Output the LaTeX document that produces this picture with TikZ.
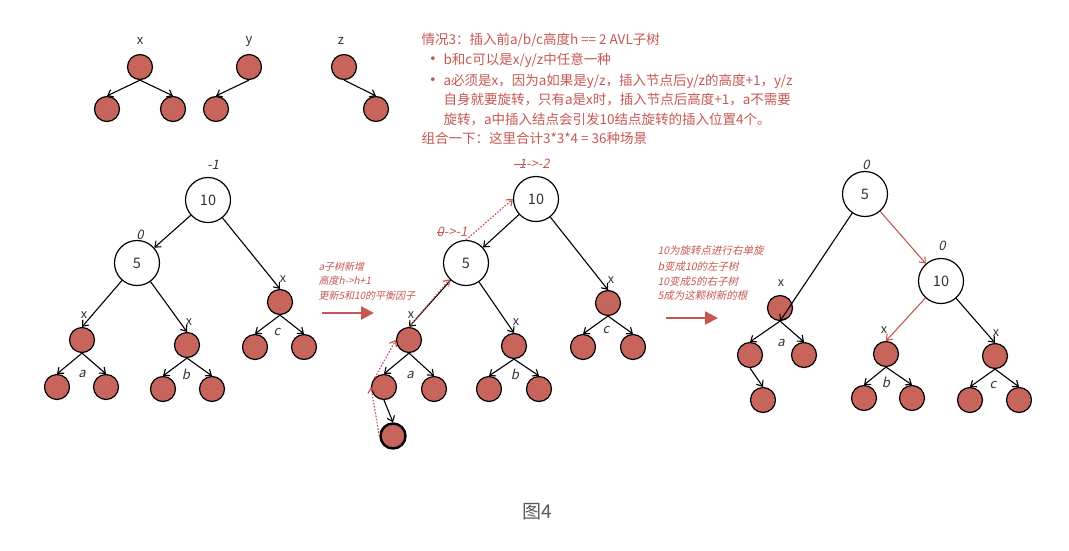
\documentclass[tikz,border=0pt]{standalone}
\usepackage{fontspec}
\setmainfont{Noto Sans CJK SC}
\newfontfamily\itf{Noto Sans CJK SC}[FakeSlant=0.22]
\newfontfamily\dejavu{DejaVu Sans}
\usetikzlibrary{arrows.meta}
\definecolor{nodered}{RGB}{199,100,92}
\definecolor{txtred}{RGB}{198,88,84}
\definecolor{capgray}{RGB}{90,90,90}
\definecolor{lblgray}{RGB}{50,50,50}
\newcommand\strk[1]{\setbox0\hbox{#1}\rlap{\raisebox{0.3em}{\rule{\wd0}{0.6pt}}}\box0}
\begin{document}
\begin{tikzpicture}[x=1pt,y=-1pt,line width=1.1pt,
  rn/.style={circle,draw=black,fill=nodered,minimum size=25pt,inner sep=0pt,line width=1.2pt},
  wn/.style={circle,draw=black,fill=white,minimum size=45pt,inner sep=0pt,line width=1.2pt,font=\fontsize{14.5}{14.5}\selectfont,text=lblgray},
  ed/.style={-{Straight Barb[length=5pt,width=8pt]},line width=1.1pt},
  rededge/.style={ed,draw=txtred},
  dt/.style={-{Straight Barb[length=5pt,width=8pt]},draw=txtred,dash pattern=on 1.6pt off 1.6pt,line width=1.2pt},
  xl/.style={font=\fontsize{12.5}{12.5}\selectfont,text=lblgray,inner sep=0pt},
  il/.style={font=\itf\fontsize{13}{13}\selectfont,text=lblgray,inner sep=0pt},
  bfl/.style={font=\itf\fontsize{13}{13}\selectfont,text=txtred,inner sep=0pt},
  ann/.style={font=\itf\fontsize{10}{12}\selectfont,text=txtred,anchor=west,inner sep=0pt},
  ann2/.style={font=\itf\fontsize{10.5}{12}\selectfont,text=txtred,anchor=west,inner sep=0pt},
  bigarrow/.style={-{Triangle[length=13pt,width=13pt]},line width=2.6pt,draw=txtred},
  maintext/.style={font=\fontsize{13.5}{16}\selectfont,text=txtred,anchor=west,inner sep=0pt},
  bullet/.style={font=\dejavu\fontsize{13}{16}\selectfont,text=txtred,inner sep=0pt}
]
\fill[white] (0,0) rectangle (1069,550);
\useasboundingbox (0,0) rectangle (1069,550);

% ---- top small trees ----
\node[xl,font=\fontsize{13}{13}\selectfont] (tx) at (140,41) {x};
\node[rn] (xr) at (140,67) {};
\node[rn] (xa) at (107,109) {};
\node[rn] (xb) at (173,109) {};
\draw[ed] (xr.south) -- (xa.north);
\draw[ed] (xr.south) -- (xb.north);

\node[xl,font=\fontsize{13}{13}\selectfont] (ty) at (249,41) {y};
\node[rn] (yr) at (249,67) {};
\node[rn] (ya) at (216,109) {};
\draw[ed] (yr.south) -- (ya.north);

\node[xl,font=\fontsize{13}{13}\selectfont] (tz) at (341,41) {z};
\node[rn] (zr) at (344,67) {};
\node[rn] (zb) at (376,109) {};
\draw[ed] (zr.south) -- (zb.north);

% ---- top text ----
\node[maintext] (t1) at (421,40) {情况3：插入前a/b/c高度h == 2 AVL子树};
\node[bullet] (b1) at (433,60) {•};
\node[maintext] (t2) at (443,60) {b和c可以是x/y/z中任意一种};
\node[bullet] (b2) at (433,81) {•};
\node[maintext] (t3) at (443,81) {a必须是x，因为a如果是y/z，插入节点后y/z的高度+1，y/z};
\node[maintext] (t4) at (443,100) {自身就要旋转，只有a是x时，插入节点后高度+1，a不需要};
\node[maintext] (t5) at (443,119) {旋转，a中插入结点会引发10结点旋转的插入位置4个。};
\node[maintext] (t6) at (421,138) {组合一下：这里合计3*3*4 = 36种场景};

% ---- left tree ----
\node[wn] (L10) at (208,200) {10};
\node[il] (L10b) at (213,165) {-1};
\node[wn] (L5) at (137,263) {5};
\node[il] (L5b) at (140,235) {0};
\node[rn] (La) at (82,340) {};
\node[xl] (Lax) at (84,315) {x};
\node[rn] (Lb) at (187,345) {};
\node[xl] (Lbx) at (189,322) {x};
\node[rn] (Lc) at (280,302) {};
\node[xl] (Lcx) at (283,279) {x};
\node[rn] (La1) at (57,387) {};
\node[rn] (La2) at (106,387) {};
\node[il] (Lal) at (82,374) {a};
\node[rn] (Lb1) at (163,389) {};
\node[rn] (Lb2) at (212,389) {};
\node[il] (Lbl) at (186,374) {b};
\node[rn] (Lc1) at (255,347) {};
\node[rn] (Lc2) at (304,347) {};
\node[il] (Lcl) at (277,332) {c};
\draw[ed] (L10) -- (L5);
\draw[ed] (L10) -- (Lc.north);
\draw[ed] (L5) -- (La.north);
\draw[ed] (L5) -- (Lb.north);
\draw[ed] (La.south) -- (La1.north);
\draw[ed] (La.south) -- (La2.north);
\draw[ed] (Lb.south) -- (Lb1.north);
\draw[ed] (Lb.south) -- (Lb2.north);
\draw[ed] (Lc.south) -- (Lc1.north);
\draw[ed] (Lc.south) -- (Lc2.north);

% ---- arrow 1 ----
\node[ann] (n1) at (318,267) {a子树新增};
\node[ann] (n2) at (318,281) {高度h->h+1};
\node[ann] (n3) at (318,296) {更新5和10的平衡因子};
\coordinate (A1s) at (322,313);
\coordinate (A1e) at (374,313);
\draw[bigarrow] (A1s) -- (A1e);

% ---- middle tree ----
\node[wn] (M10) at (536,199) {10};
\node[bfl] (M10b) at (532,164) {\strk{-1}->-2};
\node[wn] (M5) at (466,263) {5};
\node[bfl] (M5b) at (452,232) {\strk{0}->-1};
\node[rn] (Ma) at (409,340) {};
\node[xl] (Max) at (411,315) {x};
\node[rn] (Mb) at (514,346) {};
\node[xl] (Mbx) at (516,322) {x};
\node[rn] (Mc) at (608,303) {};
\node[xl] (Mcx) at (611,280) {x};
\node[rn] (Ma1) at (384,387) {};
\node[rn] (Ma2) at (434,389) {};
\node[il] (Mal) at (410,375) {a};
\node[rn] (Mb1) at (489,389) {};
\node[rn] (Mb2) at (539,389) {};
\node[il] (Mbl) at (515,374) {b};
\node[rn] (Mc1) at (583,347) {};
\node[rn] (Mc2) at (633,347) {};
\node[il] (Mcl) at (606,330) {c};
\node[rn,line width=2.4pt] (Mn) at (393,436) {};
\draw[ed] (M10) -- (M5);
\draw[ed] (M10) -- (Mc.north);
\draw[ed] (M5) -- (Ma.north);
\draw[ed] (M5) -- (Mb.north);
\draw[ed] (Ma.south) -- (Ma1.north);
\draw[ed] (Ma.south) -- (Ma2.north);
\draw[ed] (Mb.south) -- (Mb1.north);
\draw[ed] (Mb.south) -- (Mb2.north);
\draw[ed] (Mc.south) -- (Mc1.north);
\draw[ed] (Mc.south) -- (Mc2.north);
\draw[ed] (Ma1.south) -- (Mn.north);
\draw[dt] (Mn.west) -- (Ma1.west);
\draw[dt] (Ma1.north west) -- (Ma.west);
\draw[dt] (Ma.north) -- (M5.south west);
\draw[dt] (M5.north) -- (M10.west);

% ---- arrow 2 ----
\node[ann2] (m1) at (657,251) {10为旋转点进行右单旋};
\node[ann2] (m2) at (657,266) {b变成10的左子树};
\node[ann2] (m3) at (657,281) {10变成5的右子树};
\node[ann2] (m4) at (657,296) {5成为这颗树新的根};
\coordinate (A2s) at (666,318);
\coordinate (A2e) at (718,318);
\draw[bigarrow] (A2s) -- (A2e);

% ---- right tree ----
\node[wn] (R5) at (865,194) {5};
\node[il] (R5b) at (866,165) {0};
\node[wn] (R10) at (941,281) {10};
\node[il] (R10b) at (942,246) {0};
\node[rn] (Ra) at (780,308) {};
\node[xl] (Rax) at (781,283) {x};
\node[rn] (Ra1) at (750,355) {};
\node[rn] (Ra2) at (804,355) {};
\node[il] (Ral) at (781,343) {a};
\node[rn] (Ra3) at (763,400) {};
\node[rn] (Rb) at (886,354) {};
\node[xl] (Rbx) at (884,330) {x};
\node[rn] (Rb1) at (864,398) {};
\node[rn] (Rb2) at (912,398) {};
\node[il] (Rbl) at (886,382) {b};
\node[rn] (Rc) at (995,356) {};
\node[xl] (Rcx) at (996,333) {x};
\node[rn] (Rc1) at (970,400) {};
\node[rn] (Rc2) at (1019,400) {};
\node[il] (Rcl) at (993,385) {c};
\draw[ed] (R5) -- (Ra.south);
\draw[rededge] (R5) -- (R10);
\draw[rededge] (R10) -- (Rb.north);
\draw[ed] (R10) -- (Rc.north);
\draw[ed] (Ra.south) -- (Ra1.north);
\draw[ed] (Ra.south) -- (Ra2.north);
\draw[ed] (Ra1.south) -- (Ra3.north);
\draw[ed] (Rb.south) -- (Rb1.north);
\draw[ed] (Rb.south) -- (Rb2.north);
\draw[ed] (Rc.south) -- (Rc1.north);
\draw[ed] (Rc.south) -- (Rc2.north);

% ---- caption ----
\node[font=\fontsize{19}{19}\selectfont,text=capgray,inner sep=0pt] (cap) at (537,512) {图4};
\end{tikzpicture}
\end{document}
